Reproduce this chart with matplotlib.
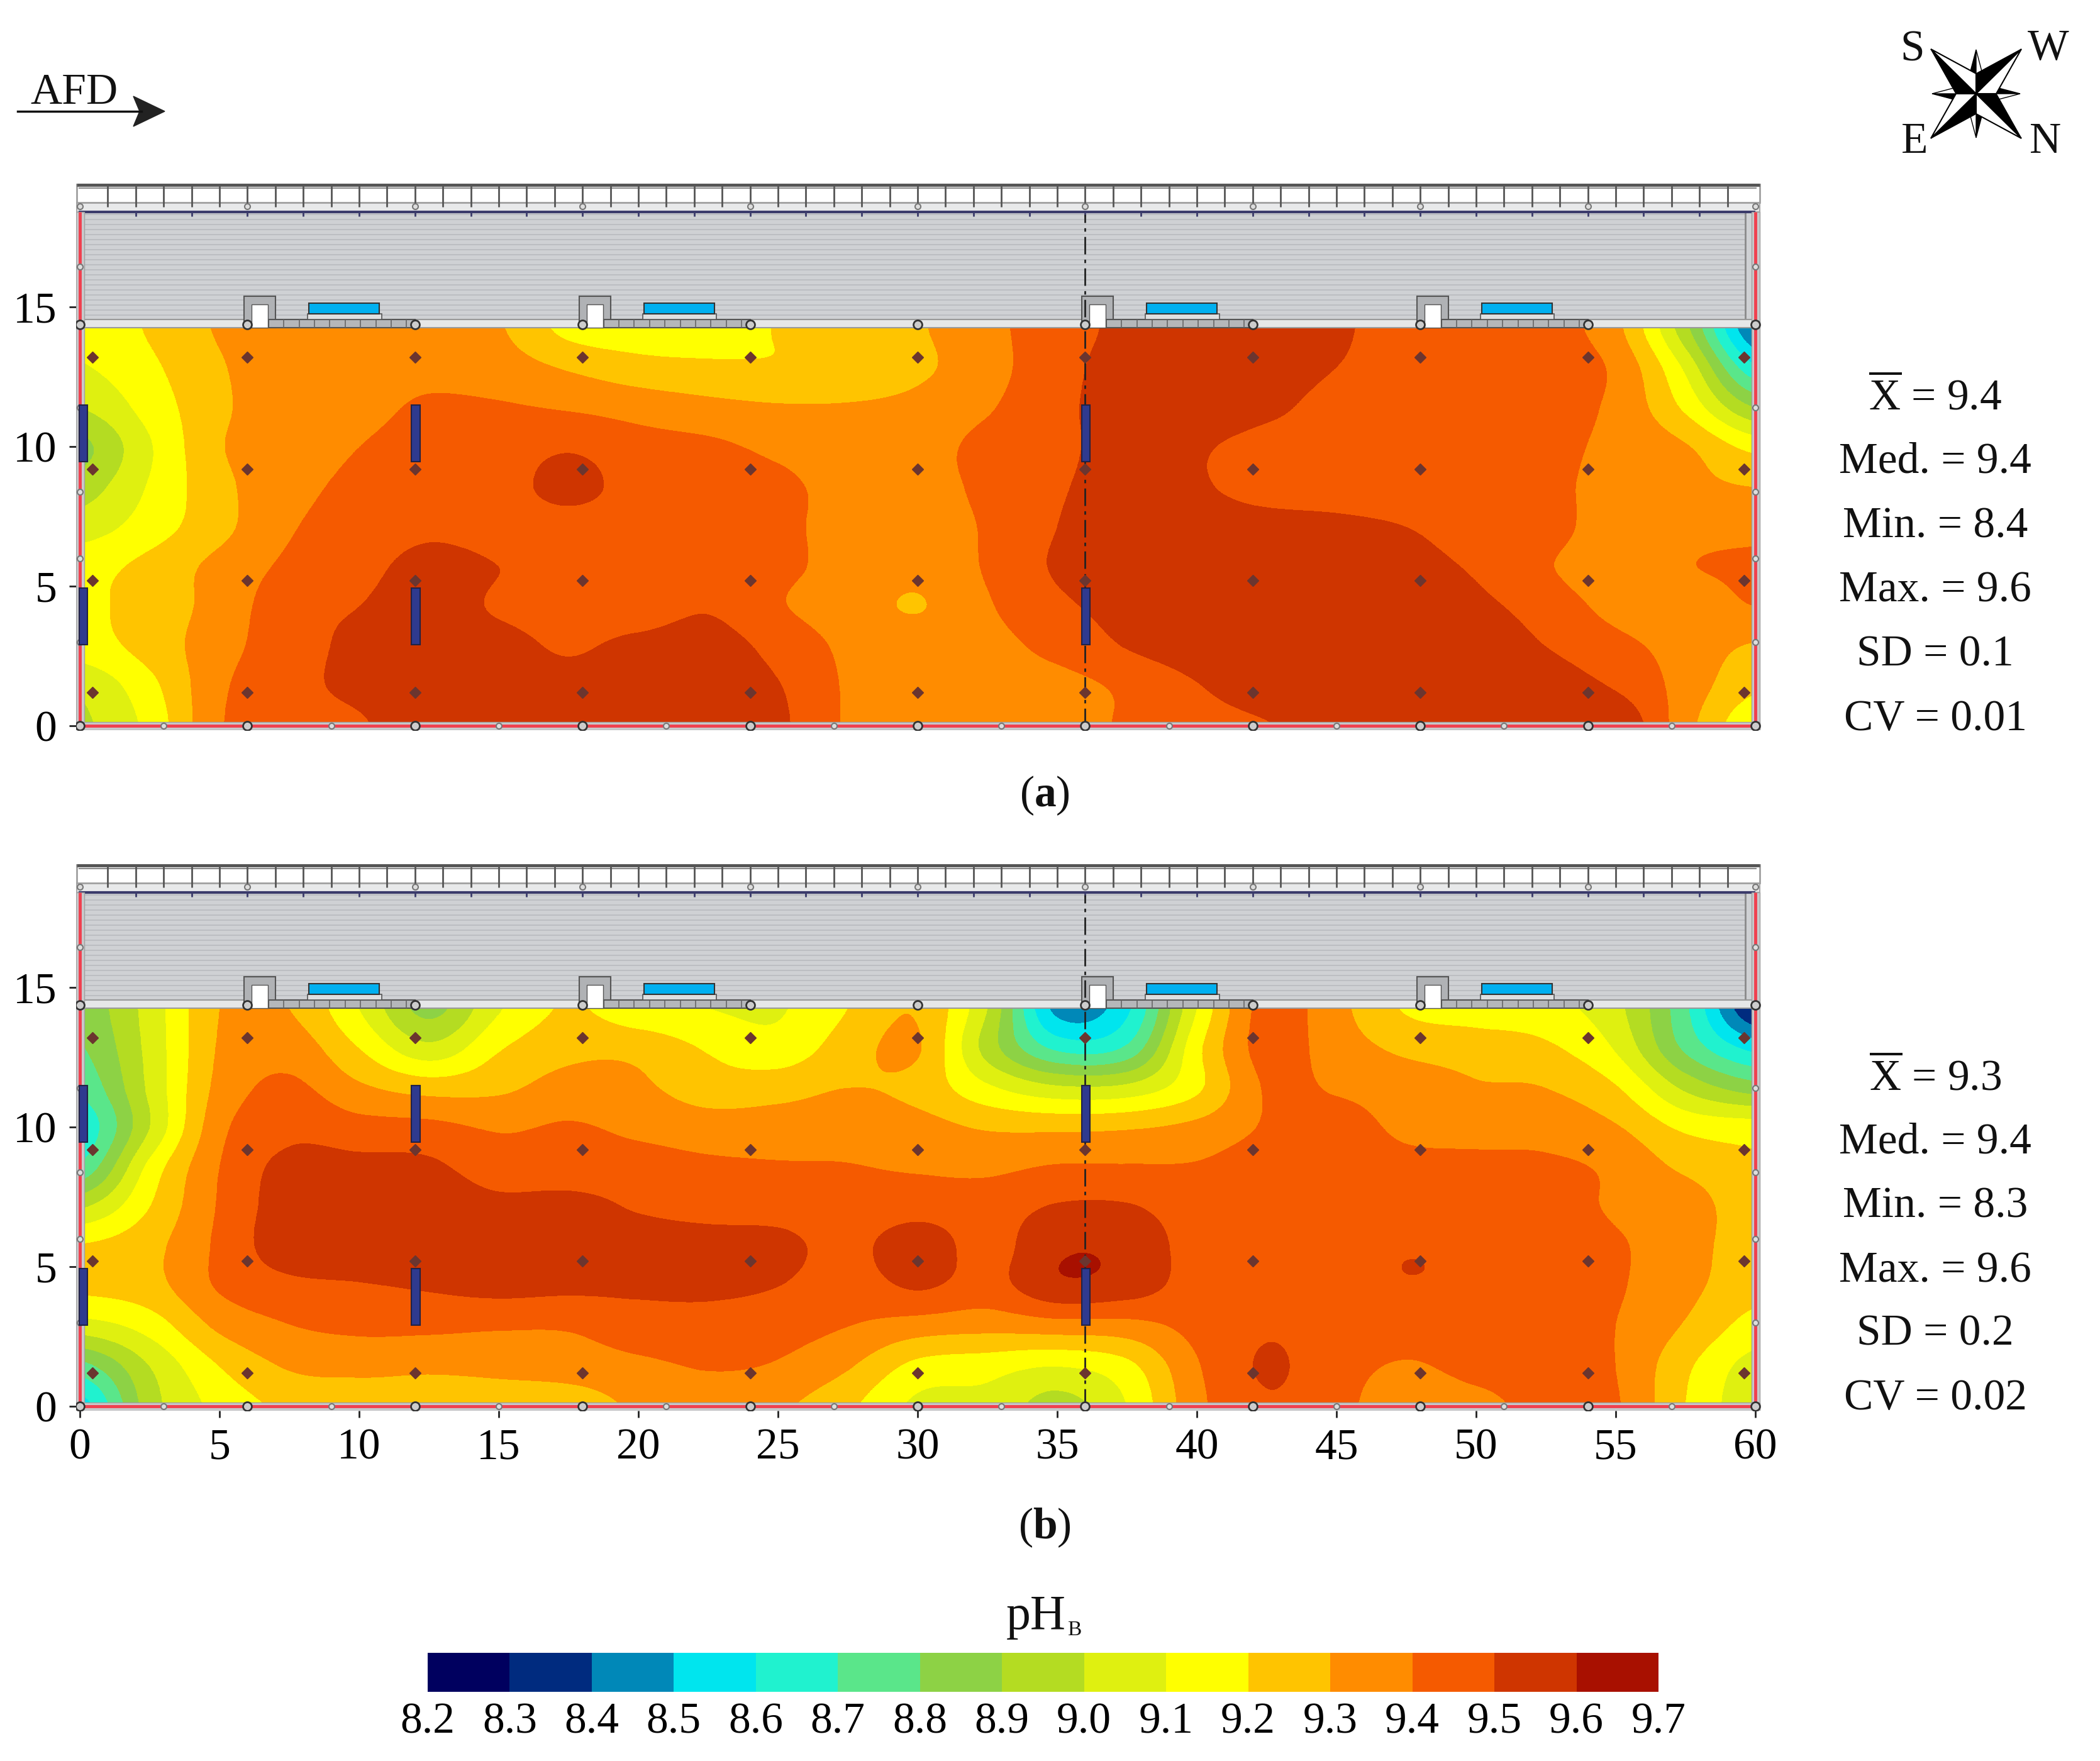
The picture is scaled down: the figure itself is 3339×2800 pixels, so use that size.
# -*-coding = utf-8-*-
import numpy as np
import matplotlib
matplotlib.use('Agg')
import matplotlib.pyplot as plt
from matplotlib.colors import ListedColormap, BoundaryNorm
from matplotlib.cm import ScalarMappable
from matplotlib.patches import Rectangle, Polygon

plt.rcParams['font.family'] = ['Liberation Serif', 'DejaVu Serif']
plt.rcParams['mathtext.fontset'] = 'custom'
plt.rcParams['mathtext.rm'] = 'Liberation Serif'
plt.rcParams['mathtext.bf'] = 'Liberation Serif:bold'

# sampled pH_B grid, x every 2.5 m, y every 1.425 m
x_m = [0, 2.5, 5, 7.5, 10, 12.5, 15, 17.5, 20, 22.5, 25, 27.5, 30, 32.5, 35, 37.5, 40, 42.5, 45, 47.5, 50, 52.5, 55, 57.5, 60]
y_m = [0, 1.425, 2.85, 4.275, 5.7, 7.125, 8.55, 9.975, 11.4, 12.825, 14.25]

ph_a = [
    [8.98, 9.13, 9.39, 9.46, 9.49, 9.56, 9.56, 9.55, 9.55, 9.56, 9.52, 9.39, 9.36, 9.37, 9.37, 9.41, 9.46, 9.495, 9.55, 9.57, 9.57, 9.585, 9.585, 9.34, 9.12],
    [9.02, 9.17, 9.38, 9.47, 9.52, 9.55, 9.54, 9.53, 9.54, 9.54, 9.505, 9.39, 9.36, 9.37, 9.37, 9.42, 9.495, 9.55, 9.56, 9.56, 9.56, 9.55, 9.49, 9.36, 9.22],
    [9.15, 9.24, 9.36, 9.46, 9.52, 9.54, 9.53, 9.49, 9.525, 9.54, 9.47, 9.38, 9.35, 9.37, 9.43, 9.505, 9.55, 9.56, 9.56, 9.55, 9.55, 9.50, 9.43, 9.36, 9.29],
    [9.18, 9.24, 9.34, 9.46, 9.50, 9.54, 9.49, 9.46, 9.45, 9.49, 9.41, 9.35, 9.295, 9.39, 9.48, 9.53, 9.56, 9.56, 9.55, 9.54, 9.52, 9.46, 9.37, 9.35, 9.40],
    [9.16, 9.23, 9.33, 9.42, 9.47, 9.53, 9.50, 9.46, 9.45, 9.45, 9.42, 9.37, 9.33, 9.41, 9.51, 9.53, 9.55, 9.54, 9.54, 9.52, 9.49, 9.41, 9.34, 9.395, 9.41],
    [9.05, 9.15, 9.27, 9.39, 9.44, 9.48, 9.46, 9.46, 9.45, 9.44, 9.42, 9.37, 9.36, 9.41, 9.50, 9.54, 9.54, 9.53, 9.52, 9.50, 9.47, 9.44, 9.35, 9.37, 9.38],
    [8.95, 9.11, 9.27, 9.37, 9.42, 9.45, 9.46, 9.53, 9.46, 9.44, 9.42, 9.37, 9.37, 9.42, 9.49, 9.53, 9.51, 9.47, 9.46, 9.45, 9.44, 9.42, 9.37, 9.33, 9.30],
    [8.87, 9.09, 9.29, 9.36, 9.40, 9.43, 9.45, 9.49, 9.44, 9.42, 9.38, 9.35, 9.36, 9.43, 9.48, 9.53, 9.51, 9.47, 9.45, 9.44, 9.44, 9.42, 9.38, 9.31, 9.17],
    [9.00, 9.14, 9.28, 9.36, 9.38, 9.41, 9.41, 9.39, 9.36, 9.33, 9.31, 9.31, 9.33, 9.39, 9.48, 9.53, 9.55, 9.52, 9.47, 9.46, 9.45, 9.42, 9.38, 9.18, 8.90],
    [9.09, 9.18, 9.29, 9.36, 9.37, 9.38, 9.35, 9.29, 9.24, 9.22, 9.21, 9.22, 9.28, 9.36, 9.47, 9.53, 9.55, 9.54, 9.50, 9.47, 9.45, 9.43, 9.38, 9.08, 8.62],
    [9.13, 9.21, 9.31, 9.36, 9.37, 9.36, 9.31, 9.17, 9.14, 9.15, 9.205, 9.25, 9.29, 9.37, 9.46, 9.52, 9.55, 9.53, 9.51, 9.47, 9.45, 9.43, 9.33, 8.93, 8.40],
]

ph_b = [
    [8.55, 8.95, 9.13, 9.22, 9.23, 9.23, 9.24, 9.24, 9.32, 9.37, 9.32, 9.22, 9.08, 9.07, 8.96, 9.10, 9.37, 9.49, 9.43, 9.34, 9.37, 9.43, 9.41, 9.20, 9.03],
    [8.76, 9.00, 9.20, 9.31, 9.33, 9.32, 9.33, 9.35, 9.38, 9.405, 9.39, 9.31, 9.17, 9.14, 9.10, 9.17, 9.39, 9.51, 9.44, 9.39, 9.43, 9.44, 9.40, 9.22, 9.06],
    [9.05, 9.14, 9.32, 9.395, 9.42, 9.42, 9.41, 9.41, 9.45, 9.46, 9.44, 9.40, 9.35, 9.33, 9.35, 9.36, 9.43, 9.49, 9.46, 9.45, 9.45, 9.44, 9.40, 9.29, 9.16],
    [9.22, 9.26, 9.41, 9.47, 9.49, 9.51, 9.53, 9.52, 9.52, 9.52, 9.50, 9.45, 9.51, 9.46, 9.575, 9.55, 9.46, 9.47, 9.47, 9.495, 9.48, 9.44, 9.41, 9.33, 9.23],
    [9.21, 9.27, 9.42, 9.56, 9.57, 9.57, 9.57, 9.56, 9.56, 9.55, 9.53, 9.47, 9.56, 9.46, 9.585, 9.575, 9.46, 9.47, 9.47, 9.495, 9.48, 9.45, 9.41, 9.35, 9.23],
    [8.99, 9.20, 9.41, 9.55, 9.56, 9.56, 9.53, 9.54, 9.49, 9.46, 9.46, 9.44, 9.46, 9.45, 9.51, 9.51, 9.45, 9.46, 9.46, 9.45, 9.45, 9.44, 9.39, 9.36, 9.22],
    [8.72, 9.13, 9.40, 9.53, 9.53, 9.52, 9.45, 9.44, 9.44, 9.42, 9.41, 9.405, 9.39, 9.38, 9.41, 9.41, 9.41, 9.45, 9.46, 9.43, 9.43, 9.42, 9.38, 9.28, 9.21],
    [8.62, 9.00, 9.37, 9.47, 9.44, 9.43, 9.39, 9.41, 9.38, 9.35, 9.35, 9.36, 9.34, 9.29, 9.28, 9.29, 9.33, 9.41, 9.44, 9.38, 9.36, 9.36, 9.31, 9.18, 9.15],
    [8.72, 9.02, 9.33, 9.42, 9.32, 9.26, 9.28, 9.34, 9.32, 9.25, 9.26, 9.30, 9.27, 9.12, 9.02, 9.03, 9.18, 9.41, 9.39, 9.35, 9.31, 9.30, 9.21, 8.98, 8.85],
    [8.79, 9.03, 9.31, 9.36, 9.20, 9.03, 9.19, 9.27, 9.27, 9.19, 9.14, 9.25, 9.31, 8.96, 8.68, 8.72, 9.17, 9.44, 9.35, 9.28, 9.26, 9.22, 9.09, 8.78, 8.57],
    [8.83, 9.04, 9.30, 9.30, 9.10, 8.87, 9.09, 9.21, 9.13, 9.10, 9.09, 9.20, 9.29, 9.00, 8.47, 8.58, 9.10, 9.44, 9.33, 9.19, 9.15, 9.13, 9.03, 8.72, 8.30],
]

levels = [8.2, 8.3, 8.4, 8.5, 8.6, 8.7, 8.8, 8.9, 9.0, 9.1, 9.2, 9.3, 9.4, 9.5, 9.6, 9.7]
band_colors = ['#00005f', '#002b7f', '#0088b8', '#00e5ee', '#20f2cf', '#5ae68a', '#8dd245', '#b4dc22',
               '#dff010', '#ffff00', '#ffc400', '#ff8c00', '#f55a00', '#cf3500', '#a81000']

stats_a = ['9.4', '9.4', '8.4', '9.6', '0.1', '0.01']
stats_b = ['9.3', '9.4', '8.3', '9.6', '0.2', '0.02']
stat_names = [r'$\overline{\mathrm{X}}$', 'Med.', 'Min.', 'Max.', 'SD', 'CV']

sensor_x = [0.45, 6, 12, 18, 24, 30, 36, 42, 48, 54, 59.6]
sensor_y = [1.2, 5.2, 9.2, 13.2]
post_x = [0, 6, 12, 18, 24, 30, 36, 42, 48, 54, 60]
mid_post_x = [3, 9, 15, 21, 27, 33, 39, 45, 51, 57]
side_post_y = [3.0, 6.0, 8.38, 11.4, 16.44]
fan_x = [0, 12, 36]
fan_y = [(2.9, 4.93), (9.47, 11.49)]
pad_x = [6, 18, 36, 48]

W, H = 3339, 2800
PX = 44.4  # pixels per metre
cmap = ListedColormap(band_colors)
norm = BoundaryNorm(levels, cmap.N)
fontsize = 50


def draw_building(ax):
    # roof strip above the map
    ax.add_patch(Rectangle((-0.12, 14.55), 60.27, 3.85, fc='#cfd1d4', ec='#a8a8a8', lw=1.5, zorder=3))
    ax.hlines(np.arange(14.7, 18.35, 0.18), -0.05, 59.65, color='#bcbec2', lw=1.4, zorder=3)
    ax.vlines(59.65, 14.55, 18.4, color='#8a8a8a', lw=2, zorder=3)
    ax.add_patch(Rectangle((-0.12, 14.25), 60.27, 0.3, fc='#e6e7e8', ec='#9a9a9a', lw=1.5, zorder=3))
    ax.add_patch(Rectangle((-0.12, 18.4), 60.27, 0.33, fc='#e8e9ea', ec='#a8a8a8', lw=1.5, zorder=3))
    ax.add_patch(Rectangle((-0.12, 18.73), 60.27, 0.66, fc='white', ec='#a0a0a0', lw=2, zorder=3))
    ax.hlines(18.4, -0.05, 60, color='#3b3b6b', lw=3, zorder=4)
    ax.hlines(19.36, -0.12, 60.15, color='#555555', lw=3.5, zorder=4)
    ax.hlines(19.26, -0.05, 60.05, color='#8a8a8a', lw=1.5, zorder=4)
    ax.vlines(np.arange(1, 60), 18.58, 19.36, color='#555555', lw=2, zorder=4)
    ax.vlines(np.arange(2, 60, 2), 18.25, 18.4, color='#3b3b6b', lw=2, zorder=4)
    # frame round the map
    ax.add_patch(Rectangle((-0.14, -0.16), 0.29, 18.56, fc='#c8c9cb', ec='#a0a0a0', lw=1, zorder=4))
    ax.add_patch(Rectangle((59.87, -0.16), 0.28, 18.56, fc='#c8c9cb', ec='#a0a0a0', lw=1, zorder=4))
    ax.add_patch(Rectangle((-0.14, -0.16), 60.29, 0.3, fc='#c8c9cb', ec='#a0a0a0', lw=1, zorder=4))
    ax.plot([0, 0], [0, 18.4], color='#f0404f', lw=3.5, zorder=5, solid_capstyle='butt')
    ax.plot([60, 60], [0, 18.4], color='#f0404f', lw=3.5, zorder=5, solid_capstyle='butt')
    ax.plot([0, 60], [0, 0], color='#f0404f', lw=3.5, zorder=5, solid_capstyle='butt')
    # fan pads and the small blue tanks
    for x0 in pad_x:
        ax.add_patch(Rectangle((x0 - 0.12, 14.26), 1.12, 1.12, fc='#b0b2b5', ec='#555555', lw=1.5, zorder=5))
        ax.add_patch(Rectangle((x0 + 0.15, 14.26), 0.58, 0.83, fc='white', ec='#555555', lw=1, zorder=5))
        ax.add_patch(Rectangle((x0 + 0.75, 14.26), 5.25, 0.29, fc='#b5b7ba', ec='#555555', lw=1.5, zorder=5))
        ax.vlines(np.arange(x0 + 1.3, x0 + 6, 0.55), 14.26, 14.55, color='#666666', lw=1.2, zorder=5)
        ax.add_patch(Rectangle((x0 + 2.15, 14.55), 2.65, 0.2, fc='#dfe0e1', ec='#555555', lw=1.2, zorder=5))
        ax.add_patch(Rectangle((x0 + 2.2, 14.75), 2.53, 0.38, fc='#00b0f0', ec='#333333', lw=1.5, zorder=5))
    ax.plot([36, 36], [0, 18.3], color='#222222', lw=2, ls=(0, (10, 3, 2, 3)), zorder=6)
    # posts
    ax.plot(post_x, [14.37] * len(post_x), 'o', ms=10, mfc='#cccccc', mec='#333333', mew=2, zorder=7, ls='none')
    ax.plot(post_x, [0] * len(post_x), 'o', ms=10, mfc='#cccccc', mec='#333333', mew=2, zorder=7, ls='none')
    ax.plot(mid_post_x, [0] * len(mid_post_x), 'o', ms=6.5, mfc='#dddddd', mec='#777777', mew=1.5, zorder=7, ls='none')
    ax.plot(post_x, [18.6] * len(post_x), 'o', ms=6.5, mfc='#dddddd', mec='#777777', mew=1.5, zorder=7, ls='none')
    for x0 in [0, 60]:
        ax.plot([x0] * len(side_post_y), side_post_y, 'o', ms=6.5, mfc='#dddddd', mec='#777777', mew=1.5, zorder=7, ls='none')
    # fans
    for x0 in fan_x:
        bar_x = x0 + 0.12 if x0 == 0 else x0 + 0.03
        for y1, y2 in fan_y:
            ax.add_patch(Rectangle((bar_x - 0.15, y1), 0.3, y2 - y1, fc='#2f3a8f', ec='#222244', lw=1.5, zorder=8))
    # sensors
    for s_y in sensor_y:
        ax.plot(sensor_x, [s_y] * len(sensor_x), 'D', ms=9, mfc='#6b352f', mec='#6b352f', ls='none', zorder=9)


def draw_panel(y0_px, values, show_x):
    x_lo, x_hi, y_lo, y_hi = -0.14, 60.2, -0.16, 19.45
    left = 127 + x_lo * PX
    bottom = y0_px - y_lo * PX
    width = (x_hi - x_lo) * PX
    height = (y_hi - y_lo) * PX
    ax = fig.add_axes([left / W, 1 - bottom / H, width / W, height / H])
    ext = (x_m[0] - 1.25, x_m[-1] + 1.25, y_m[0] - 0.7125, y_m[-1] + 0.7125)
    im = ax.imshow(np.array(values), origin='lower', extent=ext, cmap=cmap, norm=norm, aspect='auto',
                   interpolation='catrom', interpolation_stage='data', zorder=1)
    im.set_clip_path(Rectangle((0, 0), 60, 14.25, transform=ax.transData))
    draw_building(ax)
    ax.set_xlim(x_lo, x_hi)
    ax.set_ylim(y_lo, y_hi)
    for s in ax.spines.values():
        s.set_visible(False)
    ax.set_yticks([0, 5, 10, 15])
    ax.tick_params(axis='y', length=8, width=2, pad=14, labelsize=fontsize, color='#222222')
    if show_x:
        ax.set_xticks(range(0, 61, 5))
        ax.tick_params(axis='x', length=8, width=2, pad=12, labelsize=fontsize, color='#222222')
    else:
        ax.set_xticks([])
    ax.patch.set_alpha(0)
    return ax


def draw_compass(ov, cx, cy):
    # small cardinal points first, the long diagonal ones on top
    for ang in [0, 90, 180, 270]:
        a = np.radians(ang)
        u = np.array([np.cos(a), np.sin(a)])
        v = np.array([-u[1], u[0]])
        c = np.array([cx, cy])
        ov.add_patch(Polygon([c + 32 * u - 10 * v, c + 70 * u, c + 32 * u], fc='black', ec='black', lw=1))
        ov.add_patch(Polygon([c + 32 * u + 10 * v, c + 70 * u, c + 32 * u], fc='white', ec='black', lw=1))
    for tip, s_black, s_white in [((-72, -71), (-32, 0), (0, -32)), ((72, -71), (0, -32), (32, 0)),
                                  ((72, 71), (32, 0), (0, 32)), ((-72, 71), (0, 32), (-32, 0))]:
        tip_p = (cx + tip[0], cy + tip[1])
        ov.add_patch(Polygon([(cx, cy), tip_p, (cx + s_black[0], cy + s_black[1])], fc='black', ec='black', lw=1))
        ov.add_patch(Polygon([(cx, cy), tip_p, (cx + s_white[0], cy + s_white[1])], fc='white', ec='black', lw=1.5))


fig = plt.figure(figsize=(W / 100, H / 100), dpi=100, facecolor='white')

draw_panel(1154, ph_a, False)
draw_panel(2236, ph_b, True)

# colour bar
cax = fig.add_axes([680 / W, 1 - 2690 / H, (2637 - 680) / W, 62 / H])
cb = fig.colorbar(ScalarMappable(norm=norm, cmap=cmap), cax=cax, orientation='horizontal', ticks=levels,
                  spacing='uniform', format='%.1f')
cb.outline.set_visible(False)
cb.ax.tick_params(length=0, pad=12, labelsize=fontsize)

# everything else is placed in pixels on a full-figure overlay
ov = fig.add_axes([0, 0, 1, 1], zorder=20)
ov.set_xlim(0, W)
ov.set_ylim(H, 0)
ov.axis('off')
ov.patch.set_alpha(0)

ov.text(118, 148, 'AFD', fontsize=fontsize, ha='center', va='center', color='#111111')
ov.plot([28, 225], [177, 177], color='#111111', lw=2.5)
ov.add_patch(Polygon([(212, 153), (262, 177), (212, 201), (222, 177)], fc='#222222', ec='#222222'))

draw_compass(ov, 3142, 149)
for label, lx, ly in [('S', 3041, 80), ('W', 3257, 78), ('E', 3044, 226), ('N', 3252, 226)]:
    ov.text(lx, ly, label, fontsize=fontsize, ha='center', va='center', color='#111111')

rows_a = [633, 735, 838, 940, 1042, 1144]
rows_b = [1715, 1817, 1919, 2022, 2122, 2224]
for rows, vals in [(rows_a, stats_a), (rows_b, stats_b)]:
    for sy, name, val in zip(rows, stat_names, vals):
        ov.text(3077, sy, name + ' = ' + val, fontsize=fontsize, ha='center', va='center', color='#111111')

ov.text(1661, 1265, r'($\mathbf{a}$)', fontsize=fontsize, ha='center', va='center', color='#111111')
ov.text(1661, 2429, r'($\mathbf{b}$)', fontsize=fontsize, ha='center', va='center', color='#111111')

ov.text(1695, 2590, 'pH', fontsize=56, ha='right', va='baseline', color='#111111')
ov.text(1697, 2600, 'B', fontsize=24, ha='left', va='baseline', color='#111111')

fig.savefig('out.png', dpi=100, facecolor='white')
